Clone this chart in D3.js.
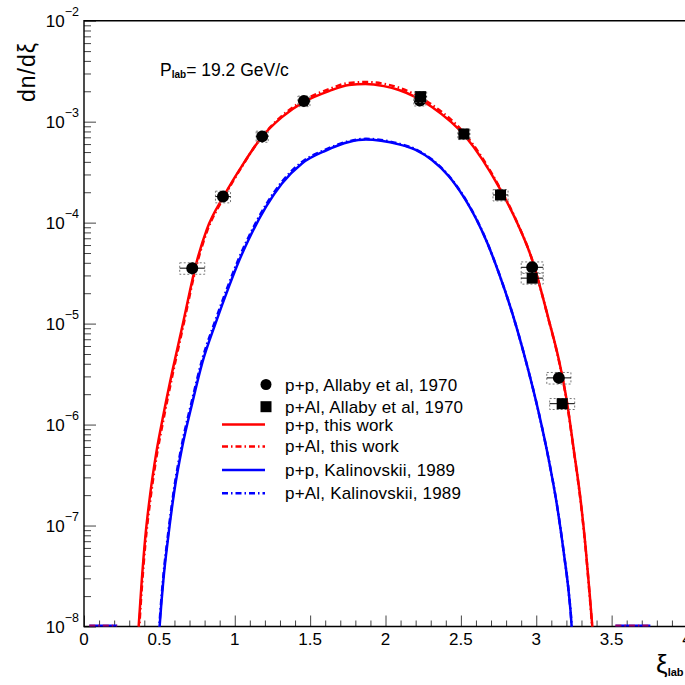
<!DOCTYPE html>
<html>
<head>
<meta charset="utf-8">
<script src="https://cdn.jsdelivr.net/npm/d3@7"></script>
<style>
html,body{margin:0;padding:0;background:#fff;}
svg{display:block;font-family:"Liberation Sans",Arial,Helvetica,sans-serif;}
</style>
</head>
<body>
<svg id="chart" width="685" height="685"></svg>
<script>
// ---------------- data ----------------
const xTickValues = [0, 0.5, 1, 1.5, 2, 2.5, 3, 3.5, 4];
const xTickLabels = ["0", "0.5", "1", "1.5", "2", "2.5", "3", "3.5", "4"];
const yDecades = [1e-8, 1e-7, 1e-6, 1e-5, 1e-4, 1e-3, 1e-2];
const yDecadeExps = ["\u22128", "\u22127", "\u22126", "\u22125", "\u22124", "\u22123", "\u22122"];

// p+p, Allaby et al, 1970 (circles)
const ppDataX    = [0.718, 0.922, 1.182, 1.459, 2.228, 2.973, 3.150];
const ppDataY    = [3.54e-5, 1.81e-4, 7.15e-4, 1.60e-3, 1.62e-3, 3.61e-5, 2.90e-6];
const ppDataXErr = [0.083, 0.05, 0.04, 0.04, 0.04, 0.073, 0.08];
const ppDataYErr = [4.6e-6, 2.4e-5, 9.0e-5, 1.9e-4, 1.9e-4, 4.7e-6, 3.8e-7];

// p+Al, Allaby et al, 1970 (squares)
const palDataX    = [2.233, 2.520, 2.763, 2.973, 3.172];
const palDataY    = [1.77e-3, 7.55e-4, 1.88e-4, 2.82e-5, 1.61e-6];
const palDataXErr = [0.04, 0.04, 0.05, 0.073, 0.083];
const palDataYErr = [2.1e-4, 9.0e-5, 2.4e-5, 3.6e-6, 2.0e-7];

// p+p, this work (red solid)
const redPPx = [0.358, 0.363, 0.383, 0.407, 0.440, 0.479, 0.529, 0.588, 0.652, 0.751, 0.816, 0.928, 1.048, 1.180, 1.313, 1.459, 1.625, 1.757, 1.867, 1.989, 2.089, 2.308, 2.533, 2.752, 2.865, 2.973, 3.083, 3.150, 3.205, 3.249, 3.294, 3.327, 3.354, 3.372, 3.378];
const redPPy = [7.94e-9, 1.02e-8, 2.83e-8, 7.78e-8, 2.09e-7, 5.21e-7, 1.30e-6, 3.48e-6, 9.35e-6, 4.28e-5, 8.67e-5, 1.84e-4, 3.65e-4, 7.06e-4, 1.11e-3, 1.57e-3, 2.01e-3, 2.31e-3, 2.36e-3, 2.25e-3, 2.06e-3, 1.40e-3, 7.06e-4, 2.26e-4, 1.06e-4, 4.28e-5, 1.09e-5, 4.38e-6, 1.63e-6, 5.62e-7, 1.80e-7, 6.19e-8, 2.14e-8, 1.00e-8, 7.6e-9];

// p+Al, this work (red dash-dot)
const redALx = [0.358, 0.363, 0.383, 0.407, 0.440, 0.479, 0.529, 0.588, 0.652, 0.751, 0.816, 0.928, 1.048, 1.180, 1.313, 1.459, 1.625, 1.757, 1.867, 1.989, 2.089, 2.308, 2.533, 2.752, 2.865, 2.973, 3.083, 3.150, 3.205, 3.249, 3.294, 3.327, 3.354, 3.372, 3.378];
const redALy = [6.5e-9, 8.3e-9, 2.35e-8, 6.6e-8, 1.8e-7, 4.6e-7, 1.16e-6, 3.15e-6, 8.6e-6, 4.0e-5, 8.2e-5, 1.78e-4, 3.6e-4, 7.1e-4, 1.14e-3, 1.63e-3, 2.10e-3, 2.42e-3, 2.47e-3, 2.37e-3, 2.17e-3, 1.47e-3, 7.35e-4, 2.30e-4, 1.07e-4, 4.28e-5, 1.08e-5, 4.3e-6, 1.6e-6, 5.5e-7, 1.75e-7, 6.0e-8, 2.05e-8, 9.5e-9, 7.2e-9];

// p+p, Kalinovskii, 1989 (blue solid)
const bluePPx = [0.497, 0.502, 0.526, 0.559, 0.597, 0.652, 0.718, 0.784, 0.873, 0.962, 1.028, 1.094, 1.207, 1.313, 1.446, 1.605, 1.757, 1.870, 1.970, 2.089, 2.200, 2.308, 2.420, 2.533, 2.600, 2.672, 2.752, 2.841, 2.929, 3.017, 3.083, 3.139, 3.183, 3.216, 3.234, 3.238];
const bluePPy = [7.94e-9, 1.02e-8, 2.83e-8, 7.78e-8, 2.09e-7, 6.05e-7, 1.63e-6, 4.06e-6, 1.01e-5, 2.34e-5, 4.17e-5, 6.89e-5, 1.43e-4, 2.44e-4, 3.86e-4, 5.18e-4, 6.28e-4, 6.64e-4, 6.46e-4, 5.96e-4, 5.25e-4, 4.17e-4, 2.88e-4, 1.66e-4, 1.10e-4, 6.46e-5, 3.16e-5, 1.27e-5, 4.38e-6, 1.30e-6, 4.48e-7, 1.54e-7, 5.33e-8, 2.14e-8, 1.04e-8, 7.94e-9];

// p+Al, Kalinovskii, 1989 (blue dash-dot)
const blueALx = [0.497, 0.502, 0.526, 0.559, 0.597, 0.652, 0.718, 0.784, 0.873, 0.962, 1.028, 1.094, 1.207, 1.313, 1.446, 1.605, 1.757, 1.870, 1.970, 2.089, 2.200, 2.308, 2.420, 2.533, 2.600, 2.672, 2.752, 2.841, 2.929, 3.017, 3.083, 3.139, 3.183, 3.216, 3.234, 3.238];
const blueALy = [8.8e-9, 1.13e-8, 3.1e-8, 8.5e-8, 2.28e-7, 6.6e-7, 1.77e-6, 4.4e-6, 1.09e-5, 2.51e-5, 4.45e-5, 7.3e-5, 1.50e-4, 2.54e-4, 3.99e-4, 5.31e-4, 6.40e-4, 6.76e-4, 6.58e-4, 6.06e-4, 5.32e-4, 4.22e-4, 2.91e-4, 1.68e-4, 1.11e-4, 6.5e-5, 3.17e-5, 1.27e-5, 4.38e-6, 1.30e-6, 4.48e-7, 1.54e-7, 5.33e-8, 2.14e-8, 1.04e-8, 7.94e-9];

// curve pieces lying on the lower edge of the plot (outside kinematic range)
const floorStartX = [0.035, 3.525];
const floorEndX   = [0.22, 3.757];

const legendLabels = ["p+p, Allaby et al, 1970", "p+Al, Allaby et al, 1970", "p+p, this work", "p+Al, this work", "p+p, Kalinovskii, 1989", "p+Al, Kalinovskii, 1989"];

// ---------------- drawing ----------------
const RED = "#ff0000", BLUE = "#0000ff";
const DASHDOT = "6,3,1.5,3";
const svg = d3.select("#chart");
const x = d3.scaleLinear().domain([0, 4]).range([84, 687]);
const y = d3.scaleLog().domain([1e-8, 1e-2]).range([626.5, 20.7]);
const [x0, x1] = x.range();
const [yb, yt] = y.range();

svg.append("defs").append("clipPath").attr("id", "plotclip")
  .append("rect").attr("x", x0).attr("y", yt).attr("width", x1 - x0).attr("height", yb - yt);

// axes ticks (inward)
const xMinorVals = d3.range(0, 41).map(i => i / 10).filter(v => !xTickValues.some(t => Math.abs(t - v) < 1e-9));
const axisColor = "#444";
function styleAxis(g) {
  g.select(".domain").remove();
  g.selectAll(".tick line").attr("stroke", axisColor).attr("stroke-width", 1);
  g.selectAll(".tick text").remove();
}
svg.append("g").attr("transform", `translate(0,${yb})`)
  .call(d3.axisBottom(x).tickValues(xMinorVals).tickSize(-6).tickFormat(""))
  .call(styleAxis);
svg.append("g").attr("transform", `translate(0,${yb})`)
  .call(d3.axisBottom(x).tickValues(xTickValues).tickSize(-11).tickFormat(""))
  .call(styleAxis);

const yMinorVals = [];
yDecades.slice(0, -1).forEach(d => { for (let k = 2; k <= 9; k++) yMinorVals.push(d * k); });
svg.append("g").attr("transform", `translate(${x0},0)`)
  .call(d3.axisLeft(y).tickValues(yMinorVals).tickSize(-7).tickFormat(""))
  .call(styleAxis);
svg.append("g").attr("transform", `translate(${x0},0)`)
  .call(d3.axisLeft(y).tickValues(yDecades).tickSize(-12).tickFormat(""))
  .call(styleAxis);

// x tick labels
svg.append("g").selectAll("text").data(xTickValues).join("text")
  .attr("x", d => x(d)).attr("y", 645).attr("text-anchor", "middle")
  .attr("font-size", 17).attr("fill", "#000")
  .text((d, i) => xTickLabels[i]);

// y tick labels 10^n
const yl = svg.append("g").selectAll("text").data(yDecades).join("text")
  .attr("x", 79).attr("y", d => y(d) + 6).attr("text-anchor", "end")
  .attr("font-size", 17).attr("fill", "#000");
yl.append("tspan").text("10");
yl.append("tspan").attr("dy", -11).attr("font-size", 12.5).text((d, i) => yDecadeExps[i]);

// frame
svg.append("path")
  .attr("d", `M${x1},${yt}H${x0}V${yb}H${x1}`)
  .attr("fill", "none").attr("stroke", "#000").attr("stroke-width", 1.4);

// curves
const plot = svg.append("g").attr("clip-path", "url(#plotclip)");
const line = d3.line().x(d => x(d[0])).y(d => y(d[1])).curve(d3.curveMonotoneX);
function addCurve(xs, ys, color, dash) {
  plot.append("path").datum(xs.map((v, i) => [v, ys[i]]))
    .attr("d", line).attr("fill", "none").attr("stroke", color)
    .attr("stroke-width", 2.5).attr("stroke-dasharray", dash || null);
}
addCurve(redPPx, redPPy, RED);
addCurve(redALx, redALy, RED, DASHDOT);
addCurve(bluePPx, bluePPy, BLUE);
addCurve(blueALx, blueALy, BLUE, DASHDOT);

// floor pieces
floorStartX.forEach((s, i) => {
  svg.append("line").attr("x1", x(s)).attr("x2", x(floorEndX[i])).attr("y1", yb - 1).attr("y2", yb - 1)
    .attr("stroke", BLUE).attr("stroke-width", 2);
  svg.append("line").attr("x1", x(s)).attr("x2", x(floorEndX[i])).attr("y1", yb - 1).attr("y2", yb - 1)
    .attr("stroke", RED).attr("stroke-width", 2).attr("stroke-dasharray", DASHDOT).attr("opacity", 0.6);
});

// data points with error boxes
function addPoints(xs, ys, xe, ye, shape) {
  const g = svg.append("g");
  xs.forEach((xv, i) => {
    const cx = x(xv), cy = y(ys[i]);
    const xl = x(xv - xe[i]), xr = x(xv + xe[i]);
    const yTop = y(ys[i] + ye[i]), yBot = y(ys[i] - ye[i]);
    g.append("rect").attr("x", xl).attr("y", yTop).attr("width", xr - xl).attr("height", yBot - yTop)
      .attr("fill", "none").attr("stroke", "#777").attr("stroke-width", 1).attr("stroke-dasharray", "2,2");
    g.append("line").attr("x1", xl).attr("x2", xr).attr("y1", cy).attr("y2", cy)
      .attr("stroke", "#000").attr("stroke-width", 1);
    if (shape === "circle") {
      g.append("circle").attr("cx", cx).attr("cy", cy).attr("r", 6).attr("fill", "#000");
    } else {
      g.append("rect").attr("x", cx - 5.5).attr("y", cy - 5.5).attr("width", 11).attr("height", 11).attr("fill", "#000");
    }
  });
}
addPoints(ppDataX, ppDataY, ppDataXErr, ppDataYErr, "circle");
addPoints(palDataX, palDataY, palDataXErr, palDataYErr, "square");

// legend
const lg = svg.append("g");
const legRowsY = [384.5, 406.7, 424.5, 446.5, 470, 493.3];
const legBase = [391, 413.3, 430.5, 452.3, 476, 499.3];
lg.append("circle").attr("cx", 266).attr("cy", legRowsY[0]).attr("r", 5.5).attr("fill", "#000");
lg.append("rect").attr("x", 260.5).attr("y", legRowsY[1] - 5.5).attr("width", 11).attr("height", 11).attr("fill", "#000");
const legStyles = [null, null, [RED, null], [RED, DASHDOT], [BLUE, null], [BLUE, DASHDOT]];
legStyles.forEach((s, i) => {
  if (!s) return;
  lg.append("line").attr("x1", 222).attr("x2", 265).attr("y1", legRowsY[i]).attr("y2", legRowsY[i])
    .attr("stroke", s[0]).attr("stroke-width", 2.5).attr("stroke-dasharray", s[1]);
});
lg.selectAll("text").data(legendLabels).join("text")
  .attr("x", 285).attr("y", (d, i) => legBase[i]).attr("font-size", 17).attr("fill", "#000")
  .attr("letter-spacing", 0.2)
  .text(d => d);

// title
const t = svg.append("text").attr("x", 160).attr("y", 76).attr("font-size", 17.5).attr("fill", "#000");
t.append("tspan").text("P");
t.append("tspan").attr("dy", 2).attr("font-size", 10).attr("font-weight", "bold").text("lab");
t.append("tspan").attr("dy", -2).text("= 19.2 GeV/c");

// axis titles
svg.append("text").attr("transform", "translate(35,102) rotate(-90)")
  .attr("font-size", 23).attr("letter-spacing", 1).attr("fill", "#000").text("dn/d\u03BE");
const xt = svg.append("text").attr("x", 656).attr("y", 673).attr("fill", "#000");
xt.append("tspan").attr("font-size", 26).text("\u03BE");
xt.append("tspan").attr("dy", 3).attr("font-size", 11).attr("font-weight", "bold").text("lab");
</script>
</body>
</html>
